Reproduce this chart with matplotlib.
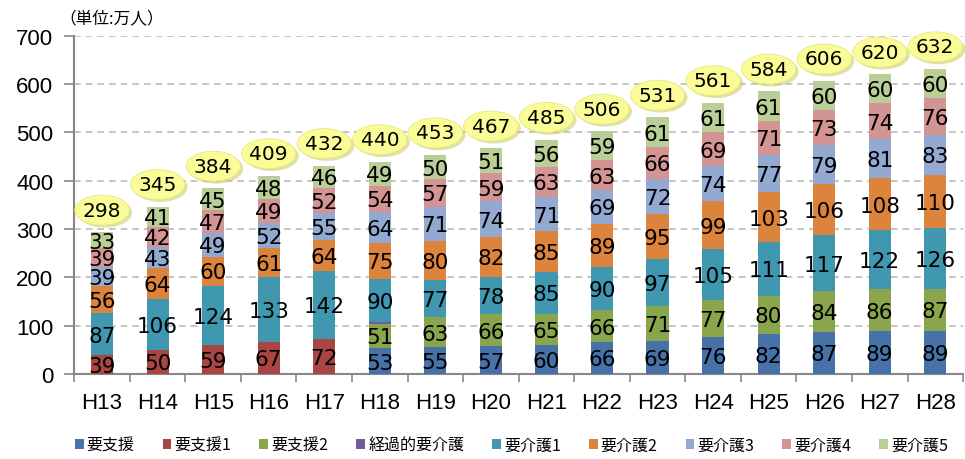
import matplotlib
matplotlib.use("Agg")
import matplotlib.pyplot as plt
from matplotlib.patches import Ellipse
import numpy as np

plt.rcParams['font.family'] = ['Noto Sans CJK JP', 'DejaVu Sans']

years = ["H13", "H14", "H15", "H16", "H17", "H18", "H19", "H20",
         "H21", "H22", "H23", "H24", "H25", "H26", "H27", "H28"]
series_names = ["要支援", "要支援1", "要支援2", "経過的要介護", "要介護1",
                "要介護2", "要介護3", "要介護4", "要介護5"]
youshien   = [0, 0, 0, 0, 0, 53, 55, 57, 60, 66, 69, 76, 82, 87, 89, 89]
youshien1  = [39, 50, 59, 67, 72, 0, 0, 0, 0, 0, 0, 0, 0, 0, 0, 0]
youshien2  = [0, 0, 0, 0, 0, 51, 63, 66, 65, 66, 71, 77, 80, 84, 86, 87]
keika      = [0, 0, 0, 0, 0, 3, 0, 0, 0, 0, 0, 0, 0, 0, 0, 0]
kaigo1     = [87, 106, 124, 133, 142, 90, 77, 78, 85, 90, 97, 105, 111, 117, 122, 126]
kaigo2     = [56, 64, 60, 61, 64, 75, 80, 82, 85, 89, 95, 99, 103, 106, 108, 110]
kaigo3     = [39, 43, 49, 52, 55, 64, 71, 74, 71, 69, 72, 74, 77, 79, 81, 83]
kaigo4     = [39, 42, 47, 49, 52, 54, 57, 59, 63, 63, 66, 69, 71, 73, 74, 76]
kaigo5     = [33, 41, 45, 48, 46, 49, 50, 51, 56, 59, 61, 61, 61, 60, 60, 60]
totals     = [298, 345, 384, 409, 432, 440, 453, 467, 485, 506, 531, 561, 584, 606, 620, 632]

colors = ['#4672A8', '#A94543', '#8AA64C', '#735A9C', '#3F98B0',
          '#DD843C', '#93A9D2', '#D39493', '#B9CF97']

data = [youshien, youshien1, youshien2, keika, kaigo1, kaigo2, kaigo3, kaigo4, kaigo5]

fig = plt.figure(figsize=(9.65, 4.6), dpi=100)
ax = fig.add_axes([0.077, 0.185, 0.921, 0.735])

x = np.arange(len(years))
bottom = np.zeros(len(years))
width = 0.4
for name, vals, c in zip(series_names, data, colors):
    v = np.array(vals, dtype=float)
    ax.bar(x, v, width, bottom=bottom, color=c, label=name, zorder=3, linewidth=0)
    for i in range(len(x)):
        if v[i] >= 10:
            ax.text(x[i], bottom[i] + v[i] / 2 - 3, str(int(v[i])), ha='center', va='center',
                    fontsize=15.5, family=['DejaVu Sans'], color='black', zorder=5)
    bottom += v

# total labels in yellow ellipses
for i, t in enumerate(totals):
    yc = bottom[i] + 46
    sh = Ellipse((x[i] + 0.05, yc - 5), 0.98, 62, facecolor='#C8C860', edgecolor='none',
                 alpha=0.55, zorder=6, clip_on=False)
    ax.add_patch(sh)
    el = Ellipse((x[i], yc), 0.98, 62, facecolor='#FBFB98', edgecolor='#E8E880',
                 linewidth=0.6, zorder=7, clip_on=False)
    ax.add_patch(el)
    ax.text(x[i], yc, str(t), ha='center', va='center', fontsize=14.5,
            family=['DejaVu Sans'], zorder=8)

ax.set_xlim(-0.5, len(years) - 0.5)
ax.set_ylim(0, 700)
ax.set_yticks(np.arange(0, 701, 100))
ax.set_yticklabels([str(v) for v in range(0, 701, 100)], fontsize=16, family=['Liberation Sans'])
ax.set_xticks(x)
ax.set_xticklabels(years, fontsize=16, family=['Liberation Sans'])
ax.set_xticks(np.arange(-0.5, len(years)), minor=True)
ax.tick_params(axis='x', which='major', length=0, pad=13)
ax.tick_params(axis='x', which='minor', length=6, color='#888888', width=1.2, direction='out')
ax.tick_params(axis='y', length=7, color='#888888', width=1.2, pad=8)

ax.yaxis.grid(True, linestyle=(0, (4, 3)), color='#BBBBBB', linewidth=1.2, zorder=0)
ax.set_axisbelow(True)
for s in ['top', 'right']:
    ax.spines[s].set_visible(False)
for s in ['left', 'bottom']:
    ax.spines[s].set_color('#888888')
    ax.spines[s].set_linewidth(1.5)

fig.text(0.062, 0.96, '（単位:万人）', fontsize=12, ha='left', va='center')

handles, labels = ax.get_legend_handles_labels()
leg = fig.legend(handles, labels, loc='center', bbox_to_anchor=(0.53, 0.03), ncol=9,
                 frameon=False, fontsize=11.5, handlelength=0.55, handleheight=0.55,
                 columnspacing=1.75, handletextpad=0.2, borderpad=0.1)

fig.savefig('out.png', dpi=100)
